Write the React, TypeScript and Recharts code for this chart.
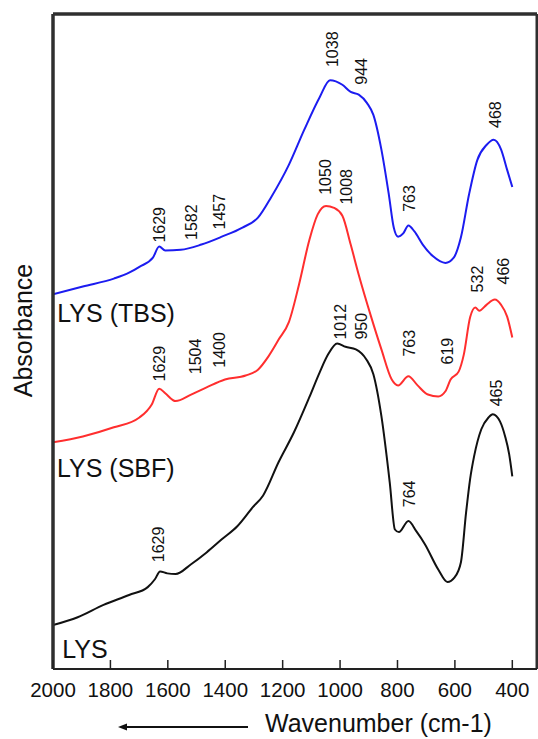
import { LineChart, Line, XAxis, YAxis, ReferenceDot, ReferenceLine } from 'recharts';

const FONT = '"Liberation Sans", Arial, sans-serif';

// Wavenumber ticks along the bottom axis (cm-1), drawn high to low.
const xTicks = [2000, 1800, 1600, 1400, 1200, 1000, 800, 600, 400];

// LYS (TBS) spectrum, arbitrary absorbance units.
const tbsWn = [2000, 1896, 1788, 1735, 1699, 1652, 1630, 1609, 1555, 1483, 1412, 1340, 1286, 1239, 1178, 1125, 1071, 1035, 992, 963, 935, 906, 884, 856, 830, 813, 798, 780, 762, 741, 712, 676, 633, 604, 579, 551, 522, 490, 465, 439, 418, 400];
const tbsAbs = [57.2, 58.4, 59.6, 60.5, 61.4, 62.8, 64.5, 63.9, 64.0, 64.8, 66.0, 67.4, 68.9, 72.1, 77.0, 82.3, 87.3, 89.9, 89.2, 88.1, 87.7, 86.4, 84.6, 79.3, 72.4, 67.4, 66.0, 66.5, 67.7, 66.8, 64.8, 63.0, 62.0, 62.8, 65.9, 72.4, 77.7, 80.0, 80.8, 79.3, 76.2, 73.6];

// LYS (SBF) spectrum.
const sbfWn = [2000, 1896, 1788, 1699, 1656, 1630, 1609, 1573, 1519, 1465, 1401, 1329, 1286, 1250, 1214, 1178, 1143, 1107, 1078, 1049, 1021, 992, 963, 935, 892, 856, 820, 798, 762, 730, 694, 658, 633, 615, 587, 569, 547, 529, 515, 490, 461, 439, 418, 400];
const sbfAbs = [34.6, 35.5, 36.9, 38.4, 40.4, 42.8, 42.1, 40.9, 41.9, 43.0, 44.2, 44.8, 45.7, 47.7, 50.3, 53.0, 58.7, 65.5, 69.4, 70.7, 70.4, 69.2, 64.8, 60.2, 53.8, 48.8, 44.2, 43.3, 44.7, 43.3, 41.9, 41.6, 42.4, 44.2, 45.4, 48.0, 53.7, 55.2, 54.7, 55.6, 56.4, 55.6, 53.8, 50.6];

// LYS spectrum.
const lysWn = [2000, 1914, 1824, 1735, 1670, 1645, 1627, 1602, 1573, 1519, 1465, 1412, 1358, 1304, 1268, 1214, 1161, 1107, 1071, 1042, 1010, 981, 945, 909, 884, 856, 827, 809, 795, 762, 734, 705, 658, 626, 601, 579, 561, 547, 533, 508, 483, 468, 443, 425, 411, 400];
const lysAbs = [6.7, 7.9, 9.8, 11.3, 12.5, 13.7, 14.9, 14.6, 14.5, 16.0, 17.8, 19.8, 21.8, 24.7, 26.5, 31.6, 36.1, 41.5, 45.3, 48.0, 49.7, 49.2, 48.8, 47.3, 45.0, 38.6, 28.5, 21.3, 20.9, 22.6, 21.0, 19.1, 15.2, 13.3, 14.0, 16.3, 23.9, 29.0, 32.5, 36.6, 38.4, 38.9, 37.8, 35.5, 32.8, 29.4];

// Band assignments written above each spectrum: label, wavenumber, absorbance where the text starts.
const peakText = ['1629', '1582', '1457', '1038', '944', '763', '468', '1050', '1008', '1629', '1504', '1400', '763', '619', '532', '466', '1012', '950', '764', '465', '1629'];
const peakWn = [1630, 1516, 1419, 1028, 927, 759, 457, 1049, 978, 1630, 1505, 1419, 759, 626, 522, 429, 999, 927, 759, 454, 1634];
const peakAbs = [65.1, 65.5, 67.1, 91.9, 89.2, 69.8, 82.6, 72.4, 70.9, 43.9, 45.0, 46.0, 47.7, 46.5, 57.5, 58.7, 50.3, 50.3, 24.7, 40.1, 16.3];

// Sample names written next to each spectrum.
const nameText = ['LYS (TBS)', 'LYS (SBF)', 'LYS'];
const nameWn = [1985, 1986, 1968];
const nameAbs = [53.0, 29.3, 1.7];

const toRows = (wn: number[], abs: number[]) => wn.map((w, i) => ({ wn: w, a: abs[i] }));
const tbsRows = toRows(tbsWn, tbsAbs);
const sbfRows = toRows(sbfWn, sbfAbs);
const lysRows = toRows(lysWn, lysAbs);

const X_MIN = 314;
const X_MAX = 2000;
const Y_MAX = 100;
const FRAME_COLOR = '#2f2f2f';

// eslint-disable-next-line @typescript-eslint/no-explicit-any
const renderTick = (props: any) => {
  const { x, y, payload } = props;
  return (
    <g>
      <line x1={x} x2={x} y1={y} y2={y - 9} stroke="#222" strokeWidth={1.5} />
      <text x={x} y={y + 28} textAnchor="middle" fontSize={20.5} fontFamily={FONT} fill="#111">
        {payload.value}
      </text>
    </g>
  );
};

// eslint-disable-next-line @typescript-eslint/no-explicit-any
const renderXLabel = (props: any) => {
  const { x, y } = props.viewBox;
  const ay = y + 58;
  return (
    <g>
      <line x1={x + 68} x2={x + 195} y1={ay} y2={ay} stroke="#111" strokeWidth={2} />
      <path d={`M${x + 65},${ay} l9,-3.5 l0,7 z`} fill="#111" />
      <text x={x + 212} y={y + 63} fontSize={25} fontFamily={FONT} fill="#111">
        Wavenumber (cm-1)
      </text>
    </g>
  );
};

// eslint-disable-next-line @typescript-eslint/no-explicit-any
const renderYLabel = (props: any) => {
  const { x, y, height } = props.viewBox;
  const cx = x - 29.5;
  const cy = y + height / 2 - 11;
  return (
    <text
      x={cx}
      y={cy}
      transform={`rotate(-90 ${cx} ${cy})`}
      textAnchor="middle"
      dominantBaseline="central"
      fontSize={25}
      fontFamily={FONT}
      fill="#111"
    >
      Absorbance
    </text>
  );
};

const peakShape = (label: string) =>
  // eslint-disable-next-line @typescript-eslint/no-explicit-any
  (props: any) => {
    const { cx, cy } = props;
    return (
      <text
        x={cx}
        y={cy}
        transform={`rotate(-90 ${cx} ${cy})`}
        textAnchor="start"
        dominantBaseline="central"
        fontSize={16}
        fontFamily={FONT}
        fill="#111"
      >
        {label}
      </text>
    );
  };

const nameShape = (label: string) =>
  // eslint-disable-next-line @typescript-eslint/no-explicit-any
  (props: any) => (
    <text x={props.cx} y={props.cy} fontSize={25} fontFamily={FONT} fill="#111">
      {label}
    </text>
  );

export default function App() {
  return (
    <div style={{ position: 'absolute', left: 0, top: 0, background: '#fff' }}>
      <LineChart width={538} height={739} margin={{ top: 14, right: 1, bottom: 0, left: 52 }}>
        <XAxis
          dataKey="wn"
          type="number"
          domain={[X_MIN, X_MAX]}
          reversed
          ticks={xTicks}
          interval={0}
          tickSize={0}
          tickMargin={0}
          tick={renderTick}
          tickLine={false}
          axisLine={{ stroke: '#222', strokeWidth: 2 }}
          height={70}
          allowDataOverflow
          label={{ content: renderXLabel }}
        />
        <YAxis
          type="number"
          domain={[0, Y_MAX]}
          width={1}
          tick={false}
          tickLine={false}
          axisLine={{ stroke: FRAME_COLOR, strokeWidth: 3.5 }}
          allowDataOverflow
          label={{ content: renderYLabel }}
        />
        {/* top and right edges of the plot frame */}
        <ReferenceLine y={Y_MAX} stroke={FRAME_COLOR} strokeWidth={3.5} ifOverflow="visible" />
        <ReferenceLine x={X_MIN} stroke={FRAME_COLOR} strokeWidth={3} ifOverflow="visible" />
        <Line data={tbsRows} dataKey="a" type="monotone" stroke="#1c1cf0" strokeWidth={2} dot={false} activeDot={false} isAnimationActive={false} />
        <Line data={sbfRows} dataKey="a" type="monotone" stroke="#ff2e2e" strokeWidth={2} dot={false} activeDot={false} isAnimationActive={false} />
        <Line data={lysRows} dataKey="a" type="monotone" stroke="#111" strokeWidth={2} dot={false} activeDot={false} isAnimationActive={false} />
        {peakText.map((t, i) => (
          <ReferenceDot key={`p${i}`} x={peakWn[i]} y={peakAbs[i]} r={0} shape={peakShape(t)} />
        ))}
        {nameText.map((t, i) => (
          <ReferenceDot key={`n${i}`} x={nameWn[i]} y={nameAbs[i]} r={0} shape={nameShape(t)} />
        ))}
      </LineChart>
    </div>
  );
}
